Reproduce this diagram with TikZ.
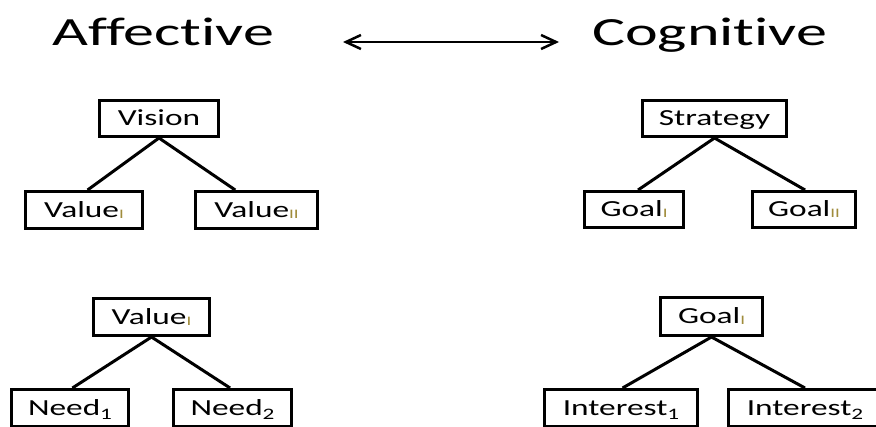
\documentclass[tikz,border=0pt]{standalone}
\usepackage{fontspec}
\setmainfont{Carlito}[FakeStretch=1.45,Ligatures=NoCommon]
\newfontfamily\titlefont{Carlito}[FakeStretch=1.55,Ligatures=NoCommon]
\usetikzlibrary{arrows.meta,calc}
\definecolor{subgold}{RGB}{160,140,60}
\newcommand{\romsub}[1]{\raisebox{-1pt}{\fontsize{13}{13}\selectfont\textcolor{subgold}{#1}}}
\newcommand{\digsub}[1]{\raisebox{-4pt}{\fontsize{16}{16}\selectfont #1}}
\begin{document}
\begin{tikzpicture}[x=1pt,y=-1pt,
  box/.style={draw,line width=3pt,rectangle,inner sep=0pt,font=\fontsize{23}{23}\selectfont,
    text height=17pt,text depth=3pt},
  link/.style={line width=3pt},
  title/.style={anchor=base west,inner sep=0pt,font=\titlefont\fontsize{40}{40}\selectfont}]
\useasboundingbox (0,0) rectangle (876,426);
\clip (0,0) rectangle (876,426);
% titles
\node[title] (aff) at (52,45) {Affect\kern0pt ive};
\node[title] (cog) at (592,45) {Cognit\kern0pt ive};
\coordinate (al) at (343,42);
\coordinate (ar) at (559,42);
\draw[line width=2.5pt,{Straight Barb[length=15pt,width=14pt]}-{Straight Barb[length=15pt,width=14pt]}] (al) -- (ar);
% top-left tree
\node[box,minimum width=119pt,minimum height=36pt] (vision) at (159,118.5) {Vision};
\node[box,minimum width=117pt,minimum height=37pt] (valI) at (84,210) {Value\romsub{I}};
\node[box,minimum width=122pt,minimum height=37pt] (valII) at (256.5,210) {Value\romsub{II}};
\draw[link] (vision.south) -- ($(valI.north west)!0.53!(valI.north east)$);
\draw[link] (vision.south) -- ($(valII.north west)!0.33!(valII.north east)$);
% top-right tree
\node[box,minimum width=144pt,minimum height=36pt] (strat) at (714.5,118.5) {Strategy};
\node[box,minimum width=99pt,minimum height=36pt] (goalI) at (634,209.5) {Goal\romsub{I}};
\node[box,minimum width=103pt,minimum height=36pt] (goalII) at (804,209.5) {Goal\romsub{II}};
\draw[link] (strat.south) -- ($(goalI.north west)!0.54!(goalI.north east)$);
\draw[link] (strat.south) -- ($(goalII.north west)!0.51!(goalII.north east)$);
% bottom-left tree
\node[box,minimum width=116pt,minimum height=37pt] (valIb) at (151.5,317) {Value\romsub{I}};
\node[box,minimum width=117pt,minimum height=37pt] (need1) at (70,408) {Need\digsub{1}};
\node[box,minimum width=118pt,minimum height=37pt] (need2) at (232.5,408) {Need\digsub{2}};
\draw[link] (valIb.south) -- ($(need1.north west)!0.52!(need1.north east)$);
\draw[link] (valIb.south) -- ($(need2.north west)!0.48!(need2.north east)$);
% bottom-right tree
\node[box,minimum width=102pt,minimum height=38pt] (goalIb) at (711.5,316.5) {Goal\romsub{I}};
\node[box,minimum width=153pt,minimum height=37pt] (int1) at (621,408) {Interest\digsub{1}};
\node[box,minimum width=153pt,minimum height=37pt] (int2) at (805,408) {Interest\digsub{2}};
\draw[link] (goalIb.south) -- ($(int1.north west)!0.51!(int1.north east)$);
\draw[link] (goalIb.south) -- ($(int2.north west)!0.5!(int2.north east)$);
\end{tikzpicture}
\end{document}
